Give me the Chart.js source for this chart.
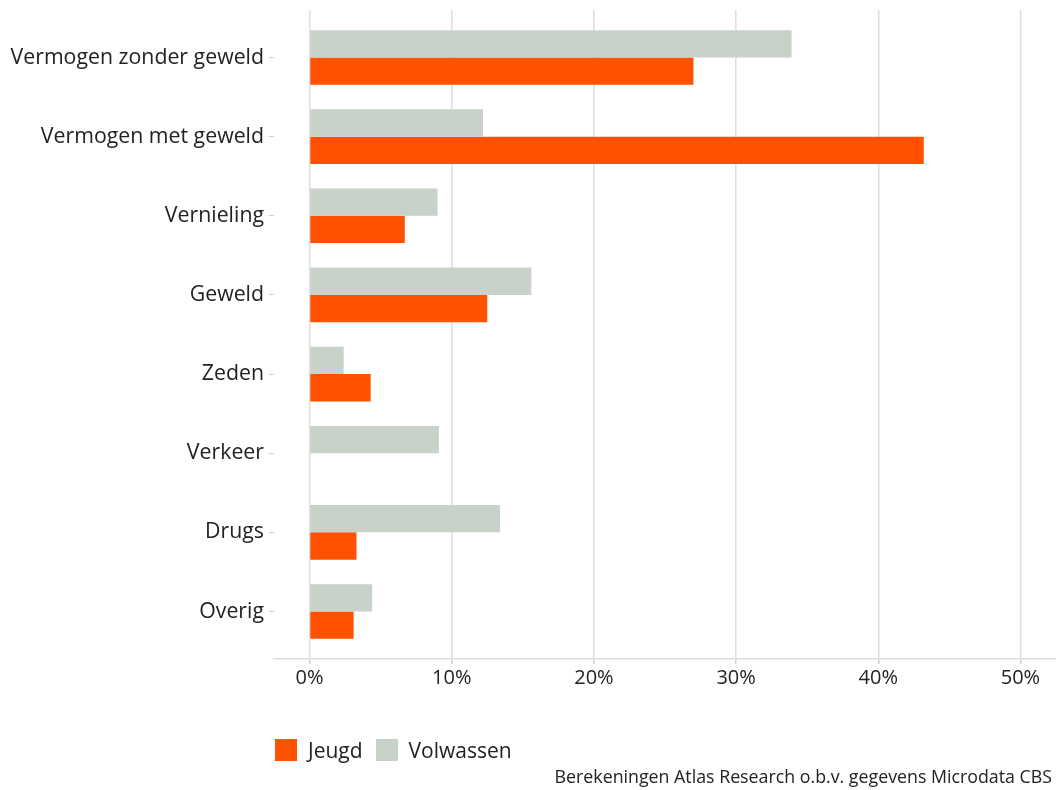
<!DOCTYPE html>
<html>
<head>
<meta charset="utf-8">
<script src="https://cdn.jsdelivr.net/npm/chart.js@4"></script>
<style>
  body { margin: 0; background: #fff; font-family: "Open Sans", sans-serif; }
  #wrap { position: relative; width: 1056px; height: 790px; }
  #legend { position: absolute; left: 275px; top: 736px; font-size: 21px; color: #222; display: flex; align-items: center; }
  #legend .box { width: 22px; height: 22px; display: inline-block; margin-right: 11px; }
  #legend .item { display: flex; align-items: center; margin-right: 13px; }
  #caption { position: absolute; right: 4px; top: 764px; font-size: 17.8px; color: #222; }
</style>
</head>
<body>
<div id="wrap">
  <canvas id="myChart" width="1056" height="790"></canvas>
  <div id="legend"></div>
  <div id="caption">Berekeningen Atlas Research o.b.v. gegevens Microdata CBS</div>
</div>
<script>
const categories = ['Vermogen zonder geweld', 'Vermogen met geweld', 'Vernieling', 'Geweld', 'Zeden', 'Verkeer', 'Drugs', 'Overig'];
const volwassen = [33.9, 12.2, 9.0, 15.6, 2.4, 9.1, 13.4, 4.4];
const jeugd = [27.0, 43.2, 6.7, 12.5, 4.3, 0, 3.3, 3.1];
const xTicks = [0, 10, 20, 30, 40, 50];

const orange = '#ff5100';
const grey = '#c9d2c9';

function toPoints(values) {
  return values.map((v, i) => ({ x: v, y: i }));
}

const ctx = document.getElementById('myChart').getContext('2d');
const myChart = new Chart(ctx, {
  type: 'bar',
  data: {
    datasets: [
      { label: 'Volwassen', data: toPoints(volwassen), backgroundColor: grey, borderWidth: 0 },
      { label: 'Jeugd', data: toPoints(jeugd), backgroundColor: orange, borderWidth: 0 }
    ]
  },
  options: {
    indexAxis: 'y',
    responsive: false,
    animation: false,
    barPercentage: 1,
    categoryPercentage: 0.69,
    layout: { padding: { top: 10, right: 0, bottom: 91, left: 0 } },
    plugins: { legend: { display: false }, tooltip: { enabled: false } },
    scales: {
      x: {
        type: 'linear',
        min: -2.5,
        max: 52.5,
        afterBuildTicks: (scale) => { scale.ticks = xTicks.map(v => ({ value: v })); },
        afterFit: (scale) => { scale.height = 40; scale.paddingLeft = 0; scale.paddingRight = 0; },
        grid: { color: '#dedede', lineWidth: 1.5, tickLength: 5, tickColor: '#cfcfcf' },
        border: { display: true, color: '#dedede', width: 1.5 },
        ticks: {
          padding: 2,
          color: '#222',
          font: { family: 'Open Sans', size: 20 },
          callback: (v) => v + '%'
        }
      },
      y: {
        type: 'linear',
        reverse: true,
        offset: false,
        min: -0.6,
        max: 7.6,
        afterBuildTicks: (scale) => { scale.ticks = categories.map((c, i) => ({ value: i })); },
        afterFit: (scale) => { scale.width = 274; scale.paddingTop = 0; scale.paddingBottom = 0; },
        grid: { offset: false, drawOnChartArea: false, drawTicks: true, tickLength: 5, tickColor: '#cfcfcf' },
        border: { display: false },
        ticks: {
          padding: 5,
          color: '#222',
          font: { family: 'Open Sans', size: 21.3 },
          callback: (v) => categories[v]
        }
      }
    }
  }
});

// legend: Jeugd first, as in the source
const legendEl = document.getElementById('legend');
[['Jeugd', orange], ['Volwassen', grey]].forEach(([name, col]) => {
  legendEl.innerHTML += `<span class="item"><span class="box" style="background:${col}"></span>${name}</span>`;
});
</script>
</body>
</html>
